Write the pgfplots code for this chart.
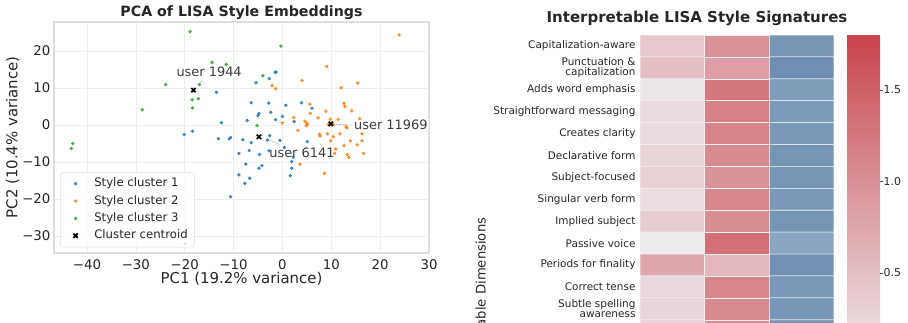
\documentclass[border=0pt]{standalone}
\usepackage{pgfplots}
\pgfplotsset{compat=1.18}
\usepackage{fontspec}
\setmainfont{DejaVu Sans}
\definecolor{tabblue}{HTML}{1F77B4}
\definecolor{taborange}{HTML}{FF7F0E}
\definecolor{tabgreen}{HTML}{2CA02C}
\definecolor{txt}{HTML}{262626}
\definecolor{gridc}{HTML}{EEEEEE}
\definecolor{framec}{HTML}{DDDDDD}
\definecolor{cellline}{HTML}{F2F2F2}

\pgfplotstableread{
x y
-13.5 8.8
-12.5 0.6
-20.1 -2.6
-18.4 -1.7
-13.1 -3.7
-10.9 -3.8
-10.6 -3.4
-8.1 -4.0
-8.9 -7.7
-7.2 1.2
-6.4 6.0
-5.4 11.4
-6.4 -4.8
-6.8 -6.9
-7.5 -10.6
-4.7 -8.0
-5.0 2.5
-4.8 3.1
-2.7 12.5
-1.5 14.2
-1.3 14.3
-2.8 5.9
-2.4 3.4
0.7 5.3
3.9 6.0
6.05 4.5
0.0 2.3
-1.4 1.4
2.4 0.9
5.1 -4.5
-0.5 -4.2
-2.6 -2.9
-3.1 -4.1
-4.8 -11.7
-4.2 -11.0
-7.7 -15.8
-6.7 -14.4
-8.9 -13.5
-10.6 -19.4
1.9 -9.9
1.9 -11.7
1.6 -13.7
2.2 -8.7
0.4 -6.1
-2.75 -7.0
-19.9 -32.1
}\clusterA

\pgfplotstableread{
x y
23.9 24.3
9.1 15.8
4.0 12.0
12.0 10.0
15.4 11.3
-2.1 10.6
-1.4 9.8
5.6 5.6
5.7 3.1
2.3 2.0
0.0 0.5
7.3 1.9
8.9 3.7
11.4 1.5
12.6 5.8
12.8 5.0
14.2 3.8
5.0 0.5
4.9 -0.2
5.1 0.1
4.6 1.0
7.6 -2.5
7.7 -3.0
9.2 -2.4
9.4 0.1
10.4 0.1
13.0 -0.5
13.2 -0.8
10.4 -3.2
11.8 -2.4
16.3 -4.3
16.3 -2.4
15.8 1.7
9.9 -4.3
13.9 -4.3
3.2 -1.5
3.6 -10.6
8.6 -13.1
12.6 -5.6
15.3 -5.4
13.3 -8.0
13.6 -8.8
16.6 -7.7
10.7 -7.7
10.9 -6.5
9.8 1.5
}\clusterB

\pgfplotstableread{
x y
-18.9 25.2
-14.4 16.9
-11.5 16.3
-23.9 10.9
-17.0 10.9
-18.45 6.8
-17.2 7.1
-28.7 4.1
-18.4 4.6
-42.9 -5.0
-43.2 -6.4
-4.0 13.3
-0.3 21.3
-5.2 -0.2
}\clusterC

\pgfplotstableread{
x y
-4.8 -3.2
9.9 0.3
-18.2 9.4
}\centroids

\pgfplotstableread{
x y c
0 0 0.40
1 0 1.00
2 0 -1.20
0 1 0.50
1 1 0.85
2 1 -1.27
0 2 0.10
1 2 1.25
2 2 -1.10
0 3 0.20
1 3 1.16
2 3 -1.13
0 4 0.20
1 4 1.13
2 4 -1.15
0 5 0.27
1 5 1.06
2 5 -1.20
0 6 0.30
1 6 0.98
2 6 -1.20
0 7 0.19
1 7 1.10
2 7 -1.15
0 8 0.34
1 8 1.03
2 8 -1.20
0 9 -0.02
1 9 1.35
2 9 -0.98
0 10 0.75
1 10 0.57
2 10 -1.25
0 11 0.23
1 11 1.10
2 11 -1.15
0 12 0.25
1 12 1.07
2 12 -1.17
0 13 0.25
1 13 1.05
2 13 -1.15
}\heat

\begin{document}
\begin{tikzpicture}
\useasboundingbox (0,0) rectangle (681pt,241.5pt);
\clip (0,0) rectangle (681pt,241.5pt);

% ---------------- PCA scatter ----------------
\begin{axis}[
  at={(40.5pt,51.75pt)}, anchor=south west,
  width=281.25pt, height=173.25pt, scale only axis,
  xmin=-46.75, xmax=30, ymin=-34.6, ymax=27.8,
  xtick={-40,-30,...,30}, xticklabels={−40,−30,−20,−10,0,10,20,30},
  ytick={-30,-20,...,20}, yticklabels={−30,−20,−10,0,10,20},
  major tick length=0pt,
  grid=major, major grid style={draw=gridc, line width=0.5pt},
  axis line style={draw=framec, line width=0.8pt},
  ticklabel style={font=\fontsize{10}{12}\selectfont, text=txt},
  xticklabel style={yshift=-1.2pt},
  yticklabel style={inner xsep=0pt, xshift=-2.5pt},
  every axis title shift=0pt,
  title={PCA of LISA Style Embeddings},
  title style={font=\bfseries\fontsize{10.65}{12}\selectfont, text=txt, at={(axis description cs:0.5,1)}, anchor=center, yshift=7.1pt},
  xlabel={PC1 (19.2\% variance)},
  xlabel style={font=\fontsize{11.2}{13}\selectfont, text=txt, at={(axis description cs:0.5,0)}, anchor=center, yshift=-19.5pt},
  ylabel={PC2 (10.4\% variance)},
  ylabel style={font=\fontsize{11.2}{13}\selectfont, text=txt, at={(axis description cs:0,0.5)}, anchor=center, yshift=30.9pt},
  legend style={at={(axis description cs:0.016,0.0247)}, anchor=south west,
    draw=framec, rounded corners=2pt, fill=white, fill opacity=0.8, text opacity=1,
    font=\fontsize{8.8}{10}\selectfont, text=txt,
    nodes={text height=6.5pt, text depth=1.9pt, inner ysep=2.3pt}},
  legend cell align=left,
  legend image code/.code={\path[draw=none, fill=none] (0cm,-0.05cm) rectangle (0.72cm,0.05cm); \draw[#1] plot coordinates {(0.3cm,0cm)};},
]
\addplot[only marks, mark=*, mark size=1.1pt, mark options={draw=tabblue, fill=tabblue, opacity=0.8}] table {\clusterA};
\addlegendentry{Style cluster 1}
\addplot[only marks, mark=*, mark size=1.1pt, mark options={draw=taborange, fill=taborange, opacity=0.8}] table {\clusterB};
\addlegendentry{Style cluster 2}
\addplot[only marks, mark=*, mark size=1.1pt, mark options={draw=tabgreen, fill=tabgreen, opacity=0.8}] table {\clusterC};
\addlegendentry{Style cluster 3}
\addplot[only marks, mark=x, mark size=2.3pt, mark options={draw=black, line width=1.3pt}] table {\centroids};
\addlegendentry{Cluster centroid}

\draw[gray!50, line width=0.5pt] (axis cs:-17.0,10.9) -- (axis cs:-16.4,11.9);
\draw[gray!50, line width=0.5pt] (axis cs:-3.2,-3.8) -- (axis cs:-0.85,-5.1);
\draw[gray!50, line width=0.5pt] (axis cs:10.4,0.1) -- (axis cs:13.9,0.0);
\node[fill=white, fill opacity=0.7, text opacity=1, text=txt!90, font=\fontsize{9.7}{11}\selectfont, inner sep=1.5pt] at (axis cs:-15.0,14.4) {user 1944};
\node[fill=white, fill opacity=0.7, text opacity=1, text=txt!90, font=\fontsize{9.7}{11}\selectfont, inner sep=1.5pt] at (axis cs:4.0,-7.4) {user 6141};
\node[fill=white, fill opacity=0.7, text opacity=1, text=txt!90, font=\fontsize{9.7}{11}\selectfont, inner sep=1.5pt] at (axis cs:22.2,0.1) {user 11969};
\end{axis}

% ---------------- Heatmap ----------------
\begin{axis}[
  at={(480pt,-14.75pt)}, anchor=south west,
  width=145.5pt, height=230pt, scale only axis,
  xmin=-0.5, xmax=2.5, ymin=-0.5, ymax=13.5, y dir=reverse,
  axis line style={draw=none},
  xtick=\empty,
  ytick={0,1,...,13},
  yticklabels={Capitalization-aware, {Punctuation \&\\capitalization}, Adds word emphasis, Straightforward messaging, Creates clarity, Declarative form, Subject-focused, Singular verb form, Implied subject, Passive voice, Periods for finality, Correct tense, {Subtle spelling\\awareness}, {}},
  major tick length=0pt,
  yticklabel style={font=\fontsize{7.85}{7.4}\selectfont, text=txt, align=right, inner sep=0pt, xshift=-3.2pt},
  colormap={lisa}{rgb255(0cm)=(56,104,152); rgb255(1cm)=(238,238,240); rgb255(2cm)=(200,68,78)},
  point meta min=-1.8, point meta max=1.8,
  every axis title shift=0pt,
  title={Interpretable LISA Style Signatures},
  title style={font=\bfseries\fontsize{11.25}{13}\selectfont, text=txt, at={(axis description cs:0.5,1)}, anchor=center, xshift=-30pt, yshift=12.75pt},
  ylabel={Interpretable Dimensions},
  ylabel style={font=\fontsize{9.9}{12}\selectfont, text=txt, at={(axis description cs:-0.8144,0.4196)}, anchor=east},
  colorbar,
  colorbar/width=24.75pt,
  colorbar style={
    at={(parent axis.north east)}, anchor=north west, xshift=1.25pt,
    height=494pt,
    axis line style={draw=none},
    ytick={0.5,1.0,1.5}, yticklabels={0.5,1.0,1.5},
    ytick pos=right, yticklabel pos=right,
    tick align=outside, major tick length=2pt,
    ytick style={draw=txt!80, line width=0.4pt},
    yticklabel style={font=\fontsize{8.2}{10}\selectfont, text=txt, inner xsep=0pt, xshift=0.5pt},
  },
]
\addplot[matrix plot*, mesh/cols=3, point meta=explicit, shader=faceted, faceted color=cellline, line width=0.4pt] table[x=x, y=y, meta=c] {\heat};
\end{axis}
\end{tikzpicture}
\end{document}
